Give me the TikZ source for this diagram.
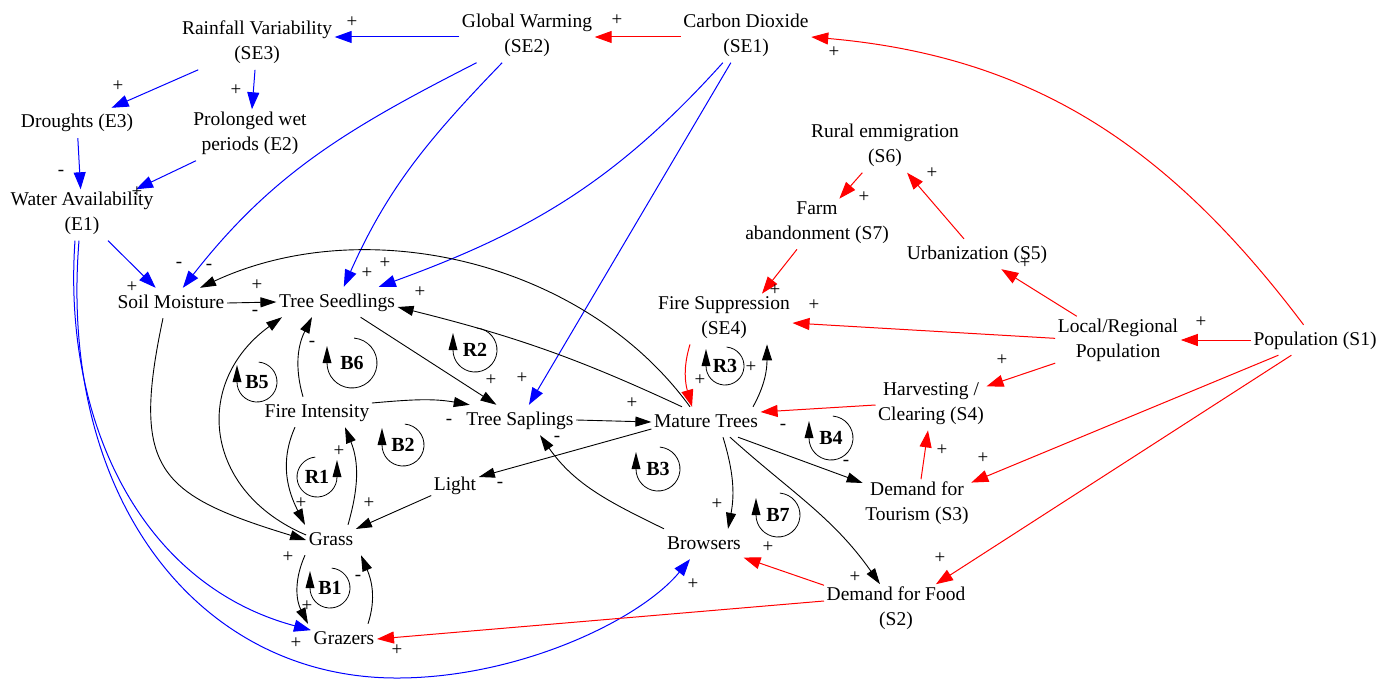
\documentclass[tikz,border=0pt]{standalone}
\usepackage{fontspec}
\setmainfont{Liberation Serif}
\usetikzlibrary{arrows.meta,calc}
\tikzset{
  var/.style={font=\fontsize{19.5}{25}\selectfont, align=center, inner sep=2.5pt,
    execute at begin node=\strut, execute at end node=\strut},
  pol/.style={font=\fontsize{19}{20}\selectfont, inner sep=0pt},
  lp/.style={font=\fontsize{20}{24}\selectfont\bfseries, inner sep=0pt},
  bl/.style={draw=blue, line width=1pt, -{Triangle[length=17pt,width=12pt]}},
  rd/.style={draw=red, line width=1pt, -{Triangle[length=17pt,width=12pt]}},
  bk/.style={draw=black, line width=0.9pt, -{Triangle[length=16pt,width=10pt]}},
  loopline/.style={line width=0.8pt},
}
\newcommand\cldloop[4]{%
  \node[lp] (lp#4) at (#1,#2) {#4};
  \draw[loopline] ({#1+#3*cos(85)},{#2+#3*sin(85)}) arc[start angle=85,end angle=-180,radius=#3];
  \fill ({#1-#3-4.5},{#2}) -- ({#1-#3+4.5},{#2}) -- ({#1-#3},{#2+17}) -- cycle;
}
\newcommand\cldloopr[4]{%
  \node[lp] (lp#4) at (#1,#2) {#4};
  \draw[loopline] ({#1+#3*cos(95)},{#2+#3*sin(95)}) arc[start angle=95,end angle=360,radius=#3];
  \fill ({#1+#3-4.5},{#2}) -- ({#1+#3+4.5},{#2}) -- ({#1+#3},{#2+17}) -- cycle;
}
\begin{document}
\begin{tikzpicture}[x=1pt,y=1pt]
\fill[white] (0,0) rectangle (1381,-679);
\useasboundingbox (0,0) rectangle (1381,-679);

% variables
\node[var] (rain) at (257,-44) {Rainfall Variability\\(SE3)};
\node[var] (gw) at (527,-37) {Global Warming\\(SE2)};
\node[var] (co2) at (746,-37) {Carbon Dioxide\\(SE1)};
\node[var] (drought) at (77,-123) {Droughts (E3)};
\node[var] (wet) at (250,-135) {Prolonged wet\\periods (E2)};
\node[var] (water) at (82,-215) {Water Availability\\(E1)};
\node[var] (soil) at (171,-303) {Soil Moisture};
\node[var] (seed) at (337,-302) {Tree Seedlings};
\node[var] (fire) at (317,-412) {Fire Intensity};
\node[var] (sap) at (520,-420) {Tree Saplings};
\node[var] (mature) at (706,-422) {Mature Trees};
\node[var] (light) at (455,-485) {Light};
\node[var] (grass) at (331,-540) {Grass};
\node[var] (grazers) at (344,-639) {Grazers};
\node[var] (browsers) at (704,-544) {Browsers};
\node[var] (food) at (896,-610) {Demand for Food\\(S2)};
\node[var] (tourism) at (917,-505) {Demand for\\Tourism (S3)};
\node[var] (harvest) at (931,-405) {Harvesting /\\Clearing (S4)};
\node[var] (firesup) at (724,-319) {Fire Suppression\\(SE4)};
\node[var] (local) at (1118,-342) {Local/Regional\\Population};
\node[var] (pop) at (1315,-340) {Population (S1)};
\node[var] (urban) at (977,-254) {Urbanization (S5)};
\node[var] (rural) at (885,-147) {Rural emmigration\\(S6)};
\node[var] (farm) at (817,-224) {Farm\\abandonment (S7)};

% blue links
\draw[bl] (gw.west) -- (gw.west -| rain.east);
\draw[bl] (rain) -- (drought);
\draw[bl] (rain) -- (wet);
\draw[bl] (drought) -- (water);
\draw[bl] (wet) -- (water);
\draw[bl] (water) -- (soil);
\draw[bl] (gw) to[out=207,in=52] (soil);
\draw[bl] (gw) to[out=226,in=66] (seed);
\draw[bl] (co2) to[out=228,in=20] (seed);
\draw[bl] (co2) -- (sap);
\draw[bl] ([xshift=-7pt]water.south) to[out=266,in=165] (grazers);
\draw[bl] ([xshift=-3pt]water.south) .. controls (58,-500) and (200,-680) .. (400,-678)
  .. controls (520,-677) and (640,-620) .. ([xshift=-14pt]browsers.south);

% red links
\draw[rd] (co2.west) -- (co2.west -| gw.east);
\draw[rd] (pop) to[out=127,in=-5] (co2.east);
\draw[rd] (pop.west) -- (pop.west -| local.east);
\draw[rd] (local) -- (firesup);
\draw[rd] (local) -- (urban);
\draw[rd] (local) -- (harvest);
\draw[rd] (urban) -- (rural);
\draw[rd] (rural) -- (farm);
\draw[rd] (farm) -- ([xshift=38pt]firesup.north);
\draw[rd] ([xshift=-34pt]firesup.south) to[out=253,in=106] ([xshift=-14pt]mature.north);
\draw[rd] (harvest.west) -- ([yshift=10pt]mature.east);
\draw[rd] ([xshift=4pt]tourism.north) -- ([xshift=-3pt]harvest.south);
\draw[rd] (pop) -- (tourism);
\draw[rd] (pop) -- (food);
\draw[rd] (food) -- (browsers);
\draw[rd] ([yshift=9pt]food.west) -- (grazers.east);

% black links
\draw[bk] (soil.east) -- (seed.west);
\draw[bk] (seed) -- (sap);
\draw[bk] ([yshift=9pt]fire.east) to[out=5,in=170] ([xshift=6pt]sap.north west);
\draw[bk] ([xshift=-14pt]fire.north) to[out=106,in=243] ([xshift=-25pt]seed.south);
\draw[bk] ([yshift=5pt]grass.west) to[out=157,in=216,looseness=1.3] ([xshift=-55pt]seed.south);
\draw[bk] ([xshift=-8pt]soil.south) to[out=258,in=163,looseness=1.5] (grass.west);
\draw[bk] ([xshift=-22pt]fire.south) to[out=246,in=117] ([xshift=-26pt]grass.north);
\draw[bk] ([xshift=17pt]grass.north) to[out=74,in=292] ([xshift=28pt]fire.south);
\draw[bk] (light) -- (grass);
\draw[bk] ([xshift=-26pt]grass.south) to[out=246,in=117] ([xshift=-36pt]grazers.north);
\draw[bk] ([xshift=24pt]grazers.north) to[out=72,in=293] ([xshift=30pt]grass.south);
\draw[bk] ([xshift=-24pt]mature.north) to[out=155,in=-14] ([yshift=-5pt]seed.east);
\draw[bk] ([xshift=-16pt]mature.north) to[out=126,in=25,looseness=0.92] ([xshift=29pt]soil.north);
\draw[bk] (sap.east) -- (mature.west);
\draw[bk] ([yshift=-7pt]mature.west) -- ([yshift=8pt]light.east);
\draw[bk] ([xshift=-40pt]browsers.north) to[out=154,in=-55] ([xshift=20pt]sap.south);
\draw[bk] ([xshift=17pt]mature.south) to[out=-73,in=79] ([xshift=24pt]browsers.north);
\draw[bk] ([xshift=24pt]mature.south) to[out=-42,in=125] ([xshift=-16pt]food.north);
\draw[bk] ([xshift=32pt]mature.south) -- ([yshift=22pt]tourism.west);
\draw[bk] ([xshift=47pt]mature.north) to[out=61,in=270] ([xshift=43pt]firesup.south);

% polarity signs
\foreach \x/\y/\s [count=\i] in {352/22/+, 118/86/+, 236/90/+, 61/173/-, 137/192/+,
  617/20/+, 834/52/+, 864/197/+, 932/173/+, 1025/263/+, 814/305/+, 1201/322/+,
  1002/360/+, 132/287/+, 179/265/-, 209/267/-, 257/285/+, 255/313/-, 367/273/+,
  385/263/+, 420/292/+, 312/344/-, 491/380/+, 522/378/+, 449/422/-, 632/403/+,
  557/439/-, 500/485/-, 301/503/+, 369/503/+, 339/451/+, 288/557/+, 307/606/+,
  358/578/-, 296/643/+, 397/650/+, 693/584/+, 717/504/+, 768/547/+, 855/577/+,
  940/558/+, 983/458/+, 942/450/+, 846/463/-, 783/427/-, 700/380/+, 751/367/+,
  775/290/+}
  \node[pol] (pol\i) at (\x,-\y) {\s};

% loop identifiers
\cldloop{352}{-363}{25}{B6}
\cldloop{257}{-382}{20}{B5}
\cldloop{475}{-350}{22}{R2}
\cldloopr{317}{-477}{20}{R1}
\cldloop{403}{-445}{21}{B2}
\cldloop{725}{-366}{19}{R3}
\cldloop{831}{-438}{22}{B4}
\cldloop{658}{-469}{22}{B3}
\cldloop{778}{-515}{22}{B7}
\cldloop{330}{-588}{20}{B1}
\end{tikzpicture}
\end{document}
